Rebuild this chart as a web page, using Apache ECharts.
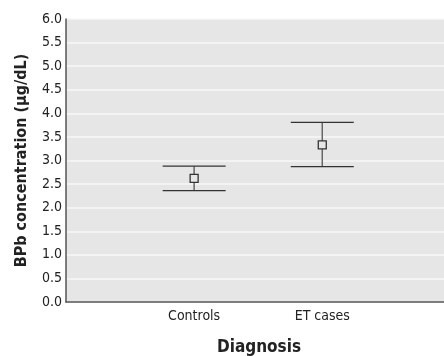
<!DOCTYPE html>
<html>
<head>
<meta charset="utf-8">
<script src="https://cdn.jsdelivr.net/npm/echarts@6/dist/echarts.min.js"></script>
<style>
  html, body { margin: 0; padding: 0; background: #fff; }
  #chart { width: 444px; height: 356px; }
</style>
</head>
<body>
<div id="chart"></div>
<script>
// groups and their BPb values (mean, 95% CI)
const categories = ['Controls', 'ET cases'];
const means = [2.62, 3.33];
const lower = [2.36, 2.87];
const upper = [2.88, 3.81];
const yTicks = [0, 6, 0.5];   // min, max, step

const font = '"DejaVu Sans Condensed", "Liberation Sans", sans-serif';
const bg = '#e6e6e7';

const chart = echarts.init(document.getElementById('chart'));

const barData = categories.map((c, i) => [i + 1, means[i], lower[i], upper[i]]);

const option = {
  animation: false,
  backgroundColor: '#fff',
  grid: {
    left: 66, right: 0, top: 19, bottom: 54,
    outerBoundsMode: 'none',
    show: true, backgroundColor: bg, borderWidth: 0
  },
  xAxis: {
    type: 'value',
    min: 0, max: 2.95, interval: 1,
    name: 'Diagnosis',
    nameLocation: 'middle',
    nameGap: 37,
    nameTextStyle: { fontFamily: font, fontWeight: 'bold', fontSize: 17, color: '#222', padding: [0, 0, 0, 8] },
    axisLine: { lineStyle: { color: '#555', width: 1.5 } },
    axisTick: { show: false },
    splitLine: { show: false },
    axisLabel: {
      fontFamily: font, fontSize: 14, color: '#222', margin: 7,
      formatter: v => categories[v - 1] || ''
    }
  },
  yAxis: {
    type: 'value',
    min: yTicks[0], max: yTicks[1], interval: yTicks[2],
    name: 'BPb concentration (\u03bcg/dL)',
    nameLocation: 'middle',
    nameGap: 36,
    nameTextStyle: { fontFamily: font, fontWeight: 'bold', fontSize: 16, color: '#222' },
    axisLine: { show: true, lineStyle: { color: '#555', width: 1.5 } },
    axisTick: { show: false },
    splitLine: { lineStyle: { color: '#f7f7f7', width: 1.5 } },
    axisLabel: {
      fontFamily: font, fontSize: 14, color: '#222', margin: 4,
      formatter: v => v.toFixed(1)
    }
  },
  series: [{
    type: 'custom',
    data: barData,
    renderItem: function (params, api) {
      const x = api.value(0);
      const m = api.coord([x, api.value(1)]);
      const lo = api.coord([x, api.value(2)]);
      const hi = api.coord([x, api.value(3)]);
      const hw = 31.5, s = 4;
      const line = { stroke: '#333', lineWidth: 1.3 };
      return {
        type: 'group',
        children: [
          { type: 'line', shape: { x1: hi[0], y1: hi[1], x2: lo[0], y2: lo[1] }, style: { stroke: '#666', lineWidth: 1.5 } },
          { type: 'line', shape: { x1: hi[0] - hw, y1: hi[1], x2: hi[0] + hw, y2: hi[1] }, style: line },
          { type: 'line', shape: { x1: lo[0] - hw, y1: lo[1], x2: lo[0] + hw, y2: lo[1] }, style: line },
          { type: 'rect', shape: { x: m[0] - s, y: m[1] - s, width: 2 * s, height: 2 * s }, style: { fill: bg, stroke: '#333', lineWidth: 1.3 } }
        ]
      };
    }
  }]
};

chart.setOption(option);
</script>
</body>
</html>
